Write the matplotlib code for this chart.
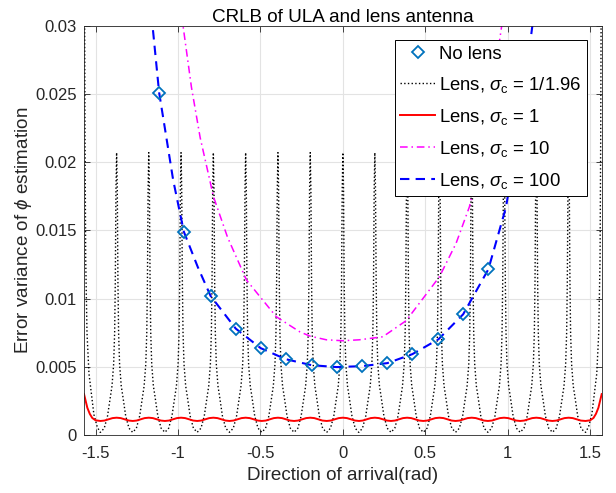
import numpy as np
import matplotlib.pyplot as plt

# ---- values ----
# columns (rad) where the sigma_c = 1/1.96 curve peaks / the sigma_c = 1 ripple peaks
col_x = [-1.373, -1.178, -0.982, -0.786, -0.590, -0.394, -0.198, 0.0,
         0.194, 0.390, 0.586, 0.782, 0.978, 1.174, 1.370]
x_lo, x_hi = -1.5708, 1.5708

# sigma_c = 1/1.96 : shape of one spike (offset from its column, value)
spike_dx = [0.0, 0.004, 0.008, 0.012, 0.018, 0.028, 0.037, 0.055, 0.075, 0.098]
spike_y = [0.0207, 0.0180, 0.0112, 0.0075, 0.0052, 0.0036, 0.0029, 0.0014, 0.0005, 0.0002]
# half spikes at the two ends
edge_dx = [0.0, 0.003, 0.006, 0.010, 0.018, 0.030, 0.045, 0.060, 0.080, 0.098]
edge_y = [0.045, 0.033, 0.022, 0.013, 0.0075, 0.0045, 0.0030, 0.0015, 0.0006, 0.0002]

# sigma_c = 1 : ripple over one half period, plus the rise at the ends
ripple_dx = [0.0, 0.025, 0.049, 0.074, 0.098]
ripple_y = [0.00127, 0.00124, 0.00115, 0.00106, 0.00103]
red_edge_dx = [0.0, 0.010, 0.020, 0.035, 0.050, 0.070, 0.098]
red_edge_y = [0.0030, 0.0025, 0.0020, 0.00155, 0.00125, 0.00108, 0.00103]

# sigma_c = 10
mag_x = [-0.985, -0.970, -0.919, -0.866, -0.808, -0.786, -0.700, -0.585, -0.404,
         -0.262, -0.200, -0.100, 0.0, 0.100, 0.242, 0.384, 0.586, 0.687, 0.768,
         0.870, 0.964, 0.980]
mag_y = [0.0320, 0.0300, 0.0255, 0.0218, 0.0187, 0.0175, 0.0145, 0.01136, 0.00867,
         0.00757, 0.00725, 0.00698, 0.00691, 0.00698, 0.0072, 0.00838, 0.0116, 0.01405,
         0.01673, 0.0222, 0.0300, 0.0320]

# sigma_c = 100
blue_x = [-1.170, -1.155, -1.115, -1.075, -1.030, -0.965, -0.880, -0.803, -0.650,
          -0.499, -0.347, -0.190, -0.038, 0.117, 0.270, 0.422, 0.580, 0.730, 0.883,
          0.990, 1.070, 1.150, 1.170]
blue_y = [0.0325, 0.0300, 0.0251, 0.0221, 0.0187, 0.0149, 0.0123, 0.0102, 0.0078,
          0.00637, 0.00556, 0.00512, 0.00498, 0.00505, 0.00527, 0.00593, 0.00702,
          0.00885, 0.01215, 0.0167, 0.0225, 0.0300, 0.0325]

# no lens (markers)
nolens_x = [-1.115, -0.965, -0.803, -0.650, -0.499, -0.347, -0.190, -0.038,
            0.117, 0.270, 0.422, 0.580, 0.730, 0.883]
nolens_y = [0.0251, 0.0149, 0.0102, 0.0078, 0.00637, 0.00556, 0.00512, 0.00498,
            0.00505, 0.00527, 0.00593, 0.00702, 0.00885, 0.01215]

xticks = [-1.5, -1, -0.5, 0, 0.5, 1, 1.5]
xtick_labels = ['-1.5', '-1', '-0.5', '0', '0.5', '1', '1.5']
yticks = [0, 0.005, 0.01, 0.015, 0.02, 0.025, 0.03]
ytick_labels = ['0', '0.005', '0.01', '0.015', '0.02', '0.025', '0.03']


def repeat_shape(cols, dx, y, e_dx, e_y):
    # put one read shape at every column, plus the two half shapes at the ends
    dx, y, e_dx, e_y = map(np.asarray, (dx, y, e_dx, e_y))
    xs = [x_lo + e_dx]
    ys = [e_y]
    for c in cols:
        xs.append(c - dx[::-1]); ys.append(y[::-1])
        xs.append(c + dx[1:]); ys.append(y[1:])
    xs.append(x_hi - e_dx[::-1]); ys.append(e_y[::-1])
    xs = np.concatenate(xs)
    ys = np.concatenate(ys)
    order = np.argsort(xs, kind='stable')
    return xs[order], ys[order]


dot_x, dot_y = repeat_shape(col_x, spike_dx, spike_y, edge_dx, edge_y)
red_x, red_y = repeat_shape(col_x, ripple_dx, ripple_y, red_edge_dx, red_edge_y)

plt.rcParams['font.family'] = ['Liberation Sans', 'DejaVu Sans']
plt.rcParams['mathtext.fontset'] = 'custom'
plt.rcParams['mathtext.rm'] = 'Liberation Sans'
plt.rcParams['mathtext.it'] = 'Liberation Sans:italic'
plt.rcParams['mathtext.sf'] = 'Liberation Sans'

txt = '#262626'
fig = plt.figure(figsize=(6.16, 4.93), dpi=100)
ax = fig.add_axes([0.1364, 0.1176, 0.8404, 0.8302])

ax.plot(nolens_x, nolens_y, linestyle='none', marker='D', markersize=5.8,
        markerfacecolor='none', markeredgecolor='#0072BD', markeredgewidth=1.3,
        label='No lens', zorder=5)
ax.plot(dot_x, dot_y, color='black', linestyle=':', linewidth=1.0,
        label=r'Lens, $\sigma_{\rm c}$ = 1/1.96')
ax.plot(red_x, red_y, color='red', linestyle='-', linewidth=1.4,
        label=r'Lens, $\sigma_{\rm c}$ = 1')
ax.plot(mag_x, mag_y, color='magenta', linestyle=(0, (5, 2.5, 1, 2.5)), linewidth=1.1,
        label=r'Lens, $\sigma_{\rm c}$ = 10')
ax.plot(blue_x, blue_y, color='blue', linestyle=(0, (4.5, 3)), linewidth=1.5,
        label=r'Lens, $\sigma_{\rm c}$ = 100')

ax.set_xlim(x_lo, x_hi)
ax.set_ylim(0, 0.03)
ax.set_xticks(xticks)
ax.set_xticklabels(xtick_labels)
ax.set_yticks(yticks)
ax.set_yticklabels(ytick_labels)
ax.grid(True, color='#e3e3e3', linewidth=0.8)
ax.set_axisbelow(True)
ax.tick_params(direction='in', length=4, width=0.6, top=True, right=True,
               colors=txt, labelsize=12)
ax.tick_params(axis='x', pad=8)
ax.tick_params(axis='y', pad=5)
for s in ax.spines.values():
    s.set_color(txt)
    s.set_linewidth(0.6)

ax.set_title('CRLB of ULA and lens antenna', fontsize=13.6, color='black', pad=2.5)
ax.set_xlabel('Direction of arrival(rad)', fontsize=13.6, color=txt, labelpad=4)
ax.set_ylabel(r'Error variance of $\phi$ estimation', fontsize=13.6, color=txt, labelpad=1)

leg = ax.legend(loc='upper right', bbox_to_anchor=(0.972, 0.965), fontsize=13.3,
                numpoints=1, fancybox=False, framealpha=1, edgecolor='black',
                borderpad=0.3, borderaxespad=0, handlelength=1.9, handletextpad=0.22,
                labelspacing=0.65)
leg.get_frame().set_linewidth(0.7)

fig.savefig('out.png', dpi=100)
